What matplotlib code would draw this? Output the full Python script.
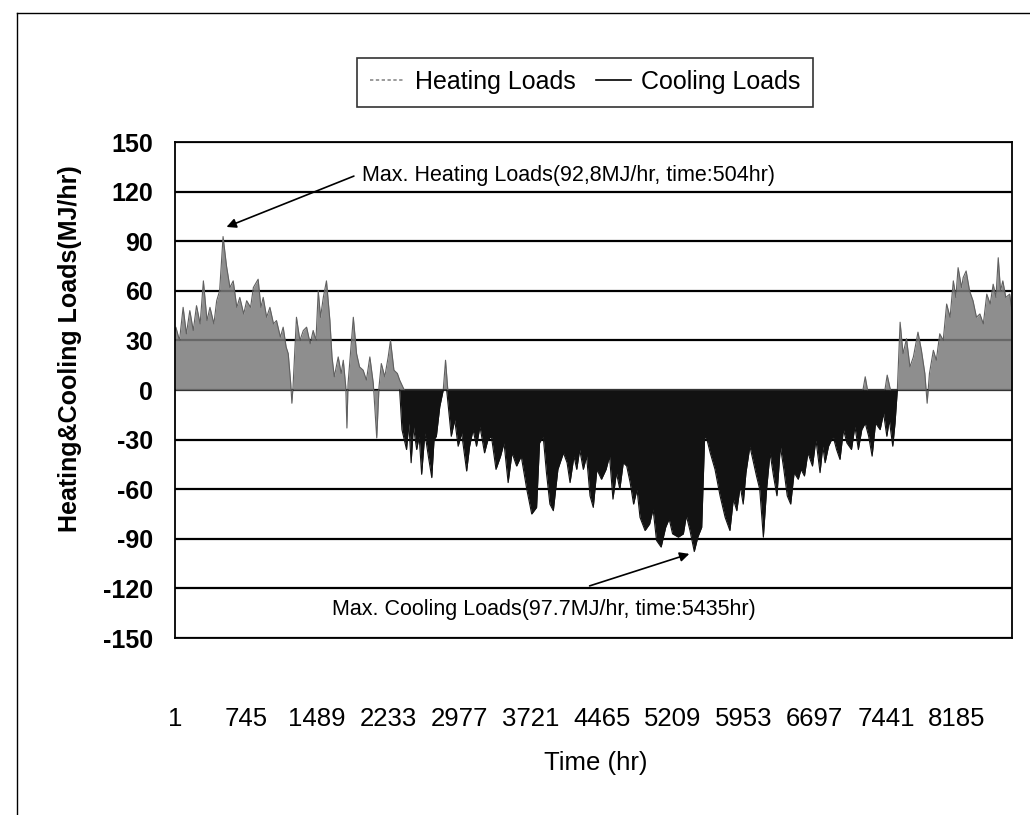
import matplotlib
matplotlib.use("Agg")
import matplotlib.pyplot as plt
from matplotlib.lines import Line2D

# Heating loads: (hour, peak MJ/hr)
heat_hours = [1, 10, 48, 86, 120, 156, 192, 226, 264, 298, 336, 367, 408, 437, 468,
              504, 540, 576, 610, 648, 679, 720, 751, 792, 821, 871, 900, 924, 960,
              994, 1032, 1063, 1104, 1133, 1164, 1186, 1212, 1224, 1236, 1272, 1308,
              1344, 1378, 1416, 1447, 1476, 1500, 1524, 1553, 1586, 1622, 1644, 1668,
              1709, 1740, 1762, 1788, 1800, 1812, 1848, 1867, 1901, 1932, 1970, 2004,
              2040, 2076, 2112, 2136, 2160, 2196, 2232, 2256, 2292, 2328, 2352, 2400,
              2808, 2832, 2856, 7200, 7224, 7248, 7430, 7454, 7488, 7560, 7589, 7620,
              7656, 7692, 7728, 7776, 7812, 7848, 7872, 7896, 7937, 7968, 8004, 8040,
              8076, 8112, 8146, 8172, 8196, 8232, 8249, 8280, 8316, 8352, 8388, 8424,
              8460, 8496, 8532, 8563, 8592, 8616, 8640, 8664, 8695, 8736, 8760]
heat_load = [36, 38, 30, 50, 34, 48, 36, 51, 40, 66, 42, 50, 40, 54, 60,
             92.8, 75, 62, 66, 50, 56, 46, 54, 50, 62, 67, 50, 56, 44,
             50, 40, 42, 32, 38, 26, 22, 4, -8, 2, 44, 30,
             36, 38, 28, 36, 30, 60, 44, 56, 66, 42, 20, 8,
             20, 10, 18, 2, -23, 4, 30, 44, 22, 14, 12, 6,
             20, 4, -29, 2, 16, 8, 20, 30, 12, 10, 6, 0,
             0, 18, 0, 0, 8, 0, 0, 9, 0, 0, 41, 22,
             31, 14, 20, 35, 24, 10, -8, 10, 24, 18, 34, 30,
             52, 44, 66, 56, 74, 62, 68, 72, 60, 54, 44, 46,
             40, 58, 52, 64, 56, 80, 60, 66, 56, 58, 48]

# Cooling loads: (hour, peak MJ/hr, negative)
cool_hours = [2352, 2376, 2424, 2448, 2472, 2496, 2530, 2556, 2582, 2616, 2652, 2688,
              2712, 2736, 2772, 2808, 2844, 2892, 2928, 2964, 3000, 3053, 3084, 3120,
              3156, 3192, 3240, 3276, 3312, 3360, 3408, 3444, 3487, 3528, 3576, 3624,
              3682, 3734, 3785, 3816, 3854, 3888, 3924, 3960, 4008, 4066, 4104, 4135,
              4176, 4205, 4236, 4274, 4308, 4344, 4378, 4416, 4464, 4512, 4548, 4584,
              4620, 4656, 4692, 4728, 4764, 4800, 4836, 4867, 4920, 4968, 5004, 5040,
              5088, 5136, 5172, 5208, 5268, 5321, 5352, 5390, 5435, 5472, 5513, 5544,
              5568, 5602, 5652, 5705, 5758, 5808, 5844, 5880, 5916, 5947, 5976, 6017,
              6048, 6086, 6120, 6158, 6192, 6228, 6264, 6300, 6336, 6372, 6408, 6444,
              6480, 6523, 6552, 6588, 6624, 6672, 6708, 6751, 6780, 6804, 6840, 6888,
              6924, 6960, 6996, 7032, 7080, 7116, 7152, 7188, 7224, 7260, 7296, 7332,
              7380, 7416, 7450, 7476, 7512, 7536, 7560]
cool_load = [0, -24, -36, -20, -44, -22, -36, -28, -51, -26, -40, -53,
             -30, -28, -10, 0, 0, -28, -18, -34, -26, -49, -34, -24,
             -34, -22, -38, -30, -28, -48, -40, -32, -56, -38, -46, -40,
             -60, -75, -71, -32, -28, -50, -69, -73, -48, -38, -44, -56,
             -40, -48, -36, -48, -40, -64, -71, -48, -54, -48, -40, -66,
             -50, -60, -44, -46, -56, -69, -60, -77, -85, -81, -72, -91,
             -95, -83, -78, -87, -89, -87, -76, -85, -97.7, -89, -83, -28,
             -30, -38, -48, -64, -77, -85, -66, -73, -58, -69, -50, -34,
             -42, -52, -60, -89, -60, -38, -52, -64, -34, -48, -64, -69,
             -50, -54, -48, -52, -38, -46, -30, -50, -34, -44, -34, -28,
             -36, -42, -24, -32, -36, -22, -36, -24, -20, -28, -40, -20,
             -24, -14, -28, -18, -34, -20, 0]

y_ticks = [150, 120, 90, 60, 30, 0, -30, -60, -90, -120, -150]
x_ticks = [1, 745, 1489, 2233, 2977, 3721, 4465, 5209, 5953, 6697, 7441, 8185]

plt.rcParams['font.family'] = ['Liberation Sans', 'DejaVu Sans']

fig = plt.figure(figsize=(10.3, 8.15), dpi=100)
ax = fig.add_axes([175 / 1030, 1 - 638 / 815, 837 / 1030, 496 / 815])

# heating (gray) and cooling (black) loads
ax.fill_between(heat_hours, heat_load, 0, color='#7a7a7a', lw=0, alpha=0.85, zorder=2)
ax.plot(heat_hours, heat_load, color='#606060', lw=0.8, zorder=2)
ax.fill_between(cool_hours, cool_load, 0, color='#121212', lw=0, zorder=3)
ax.plot(cool_hours, cool_load, color='#121212', lw=0.8, zorder=3)

ax.set_xlim(1, 8760)
ax.set_ylim(-150, 150)
ax.set_yticks(y_ticks)
ax.set_yticklabels([str(v) for v in y_ticks], fontsize=18, fontweight='bold')
ax.set_xticks(x_ticks)
ax.set_xticklabels([str(v) for v in x_ticks], fontsize=18.5)
ax.tick_params(axis='y', length=0, pad=16)
ax.tick_params(axis='x', length=0, pad=50)
for v in y_ticks:
    ax.axhline(v, color='black', lw=1.6, zorder=1)
for s in ax.spines.values():
    s.set_color('black')
    s.set_linewidth(1.3)

# annotations
ax.annotate('', xy=(513, 98), xytext=(1900, 130),
            arrowprops=dict(arrowstyle='-|>', color='black', lw=1.2, mutation_scale=14))
ax.text(1960, 130, 'Max. Heating Loads(92,8MJ/hr, time:504hr)', fontsize=15.5,
        ha='left', va='center')
ax.annotate('', xy=(5411, -98.6), xytext=(4312, -119),
            arrowprops=dict(arrowstyle='-|>', color='black', lw=1.2, mutation_scale=14))
ax.text(1643, -132.5, 'Max. Cooling Loads(97.7MJ/hr, time:5435hr)', fontsize=15.5,
        ha='left', va='center')

# axis titles
fig.text(70 / 1030, 1 - 349 / 815, 'Heating&Cooling Loads(MJ/hr)', rotation=90,
         fontsize=18, fontweight='bold', ha='center', va='center')
fig.text(596 / 1030, 1 - 763 / 815, 'Time (hr)', fontsize=18.5,
         ha='center', va='center')

# legend
handles = [Line2D([], [], color='#8a8a8a', lw=1.2, ls=(0, (2, 1.5))),
           Line2D([], [], color='black', lw=1.2)]
leg = fig.legend(handles, ['Heating Loads', 'Cooling Loads'], loc='center',
                 bbox_to_anchor=(585 / 1030, 1 - 82 / 815), ncol=2, fontsize=18,
                 frameon=True, fancybox=False, handlelength=1.4, handletextpad=0.4,
                 columnspacing=0.8, borderpad=0.5)
leg.get_frame().set_edgecolor('black')
leg.get_frame().set_linewidth(1.2)

# outer chart frame (left and top edges)
fig.add_artist(Line2D([17 / 1030, 17 / 1030], [0, 1 - 13 / 815], color='black', lw=1.0))
fig.add_artist(Line2D([17 / 1030, 1], [1 - 13 / 815, 1 - 13 / 815], color='black', lw=1.0))

fig.savefig('out.png', dpi=100)
